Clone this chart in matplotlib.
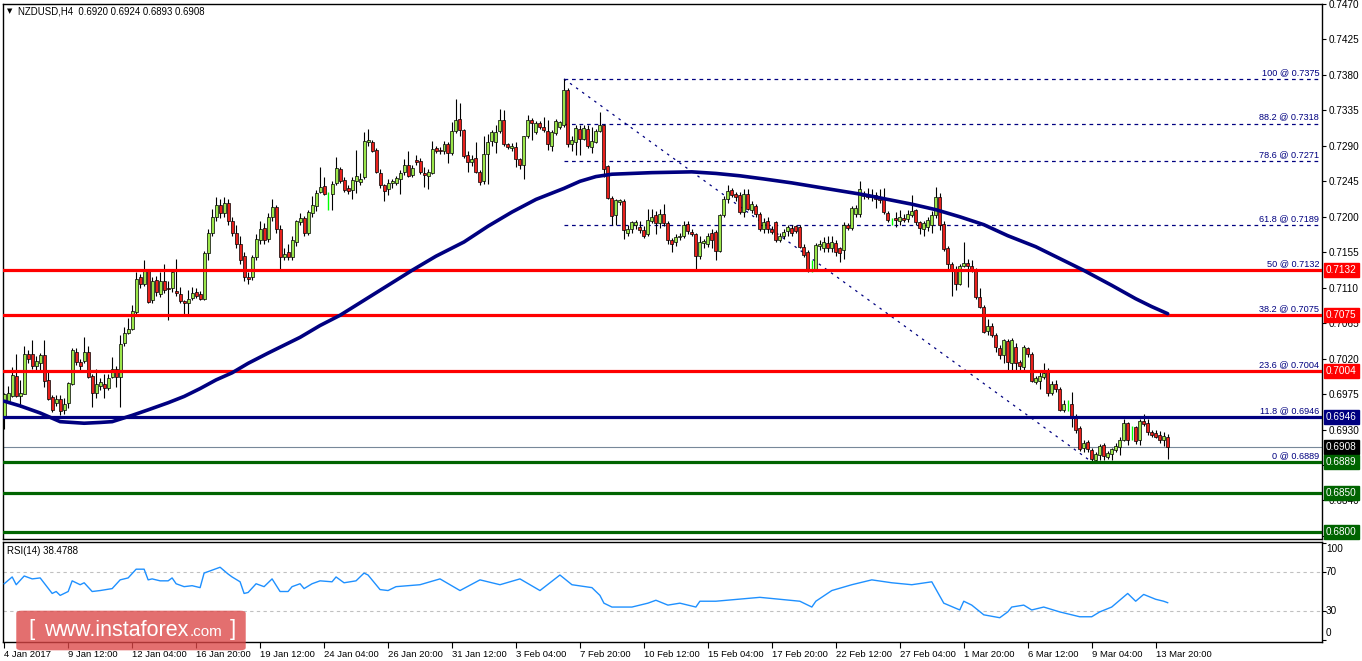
import matplotlib
matplotlib.use("Agg")
import matplotlib.pyplot as plt
from matplotlib.patches import FancyBboxPatch
from matplotlib.transforms import blended_transform_factory
import numpy as np

# ---------------- data ----------------
opens = [
0.6947,0.6966,0.6972,0.6998,0.6973,0.6975,0.7026,0.7026,0.7010,0.7014,
0.7024,0.6993,0.6971,0.6964,0.6969,0.6955,0.6964,0.6988,0.7029,0.7016,
0.7017,0.7029,0.6998,0.6976,0.6985,0.6988,0.6983,0.6997,0.7007,0.6997,
0.7040,0.7053,0.7057,0.7079,0.7123,0.7115,0.7133,0.7094,0.7120,0.7102,
0.7119,0.7110,0.7109,0.7106,0.7102,0.7093,0.7091,0.7097,0.7104,0.7102,
0.7096,0.7154,0.7180,0.7200,0.7215,0.7205,0.7218,0.7195,0.7180,0.7165,
0.7150,0.7124,0.7124,0.7149,0.7170,0.7186,0.7172,0.7200,0.7212,0.7185,
0.7149,0.7155,0.7149,0.7168,0.7193,0.7199,0.7180,0.7205,0.7214,0.7231,
0.7239,0.7230,0.7229,0.7243,0.7261,0.7247,0.7236,0.7234,0.7246,0.7244,
0.7250,0.7295,0.7295,0.7285,0.7256,0.7240,0.7235,0.7243,0.7243,0.7248,
0.7257,0.7266,0.7253,0.7272,0.7271,0.7256,0.7252,0.7256,0.7287,0.7285,
0.7283,0.7292,0.7281,0.7309,0.7324,0.7310,0.7279,0.7270,0.7275,0.7257,
0.7246,0.7280,0.7296,0.7295,0.7309,0.7323,0.7292,0.7287,0.7289,0.7273,
0.7266,0.7302,0.7323,0.7307,0.7319,0.7314,0.7309,0.7290,0.7306,0.7314,
0.7316,0.7361,0.7292,0.7295,0.7312,0.7299,0.7312,0.7289,0.7295,0.7309,
0.7316,0.7264,0.7224,0.7202,0.7219,0.7220,0.7180,0.7184,0.7190,0.7187,
0.7183,0.7178,0.7195,0.7202,0.7192,0.7204,0.7192,0.7171,0.7168,0.7174,
0.7176,0.7191,0.7181,0.7178,0.7150,0.7167,0.7166,0.7180,0.7181,0.7157,
0.7202,0.7222,0.7234,0.7229,0.7227,0.7206,0.7229,0.7209,0.7214,0.7204,
0.7185,0.7195,0.7185,0.7193,0.7170,0.7175,0.7182,0.7186,0.7188,0.7187,
0.7162,0.7155,0.7133,0.7134,0.7163,0.7160,0.7167,0.7160,0.7167,0.7160,
0.7158,0.7190,0.7186,0.7203,0.7204,0.7226,0.7229,0.7225,0.7227,0.7225,
0.7223,0.7205,0.7196,0.7199,0.7194,0.7199,0.7197,0.7202,0.7208,0.7193,
0.7185,0.7187,0.7189,0.7202,0.7225,0.7191,0.7161,0.7140,0.7132,0.7115,
0.7138,0.7141,0.7137,0.7132,0.7098,0.7086,0.7055,0.7061,0.7050,0.7034,
0.7024,0.7042,0.7015,0.7035,0.7016,0.7009,0.7033,0.7026,0.6990,0.6992,
0.6997,0.7006,0.6977,0.6988,0.6982,0.6955,0.6963,0.6963,0.6945,0.6932,
0.6906,0.6914,0.6904,0.6891,0.6898,0.6910,0.6895,0.6899,0.6904,0.6908,
0.6917,0.6938,0.6927,0.6933,0.6917,0.6941,0.6938,0.6927,0.6925,0.6923,
0.6917,0.6920]

highs = [
0.6977,0.6985,0.7009,0.7026,0.6993,0.7036,0.7031,0.7043,0.7023,0.7027,
0.7043,0.7003,0.6974,0.6974,0.6974,0.6970,0.6990,0.7033,0.7033,0.7020,
0.7047,0.7036,0.7001,0.7007,0.6996,0.7001,0.7000,0.7022,0.7010,0.7050,
0.7060,0.7072,0.7088,0.7130,0.7127,0.7145,0.7134,0.7124,0.7125,0.7130,
0.7140,0.7118,0.7133,0.7147,0.7111,0.7095,0.7107,0.7111,0.7110,0.7106,
0.7156,0.7185,0.7210,0.7225,0.7222,0.7225,0.7222,0.7200,0.7190,0.7175,
0.7155,0.7130,0.7152,0.7178,0.7195,0.7192,0.7205,0.7222,0.7215,0.7190,
0.7160,0.7165,0.7175,0.7196,0.7205,0.7201,0.7208,0.7226,0.7234,0.7263,
0.7250,0.7231,0.7246,0.7276,0.7263,0.7250,0.7240,0.7250,0.7285,0.7255,
0.7307,0.7312,0.7297,0.7287,0.7260,0.7242,0.7248,0.7248,0.7252,0.7259,
0.7273,0.7283,0.7266,0.7278,0.7275,0.7263,0.7260,0.7296,0.7290,0.7288,
0.7296,0.7295,0.7320,0.7349,0.7345,0.7312,0.7284,0.7278,0.7295,0.7259,
0.7303,0.7305,0.7310,0.7316,0.7337,0.7335,0.7294,0.7293,0.7295,0.7275,
0.7303,0.7329,0.7325,0.7322,0.7322,0.7326,0.7323,0.7310,0.7324,0.7322,
0.7375,0.7363,0.7303,0.7316,0.7316,0.7316,0.7316,0.7314,0.7311,0.7333,
0.7318,0.7266,0.7226,0.7223,0.7223,0.7222,0.7190,0.7195,0.7196,0.7195,
0.7188,0.7210,0.7210,0.7207,0.7210,0.7216,0.7195,0.7173,0.7178,0.7180,
0.7195,0.7195,0.7185,0.7180,0.7175,0.7172,0.7180,0.7185,0.7183,0.7204,
0.7226,0.7240,0.7236,0.7232,0.7232,0.7235,0.7235,0.7220,0.7216,0.7206,
0.7198,0.7200,0.7188,0.7195,0.7180,0.7185,0.7190,0.7189,0.7190,0.7190,
0.7165,0.7158,0.7145,0.7167,0.7170,0.7174,0.7175,0.7175,0.7170,0.7162,
0.7193,0.7192,0.7214,0.7215,0.7246,0.7233,0.7236,0.7235,0.7232,0.7235,
0.7236,0.7207,0.7199,0.7206,0.7209,0.7203,0.7208,0.7227,0.7210,0.7195,
0.7195,0.7200,0.7207,0.7238,0.7230,0.7195,0.7163,0.7143,0.7138,0.7140,
0.7168,0.7147,0.7145,0.7135,0.7110,0.7088,0.7070,0.7065,0.7052,0.7037,
0.7045,0.7045,0.7046,0.7040,0.7018,0.7037,0.7035,0.7028,0.6998,0.7006,
0.7015,0.7008,0.6992,0.6993,0.6984,0.6968,0.6967,0.6978,0.6950,0.6935,
0.6917,0.6917,0.6906,0.6902,0.6912,0.6913,0.6903,0.6907,0.6913,0.6920,
0.6943,0.6940,0.6935,0.6935,0.6943,0.6950,0.6944,0.6930,0.6929,0.6928,
0.6927,0.6924]

lows = [
0.6931,0.6964,0.6971,0.6971,0.6959,0.6975,0.7015,0.7007,0.7005,0.7003,
0.6984,0.6967,0.6952,0.6960,0.6948,0.6950,0.6957,0.6987,0.7012,0.7005,
0.7014,0.6995,0.6958,0.6970,0.6980,0.6970,0.6980,0.6995,0.6984,0.6959,
0.7036,0.7051,0.7056,0.7077,0.7110,0.7112,0.7090,0.7090,0.7100,0.7098,
0.7103,0.7069,0.7105,0.7100,0.7090,0.7077,0.7077,0.7095,0.7097,0.7094,
0.7094,0.7145,0.7175,0.7195,0.7198,0.7200,0.7190,0.7175,0.7160,0.7140,
0.7118,0.7115,0.7120,0.7145,0.7165,0.7165,0.7168,0.7195,0.7180,0.7134,
0.7145,0.7145,0.7145,0.7163,0.7190,0.7175,0.7177,0.7200,0.7207,0.7230,
0.7227,0.7209,0.7209,0.7240,0.7243,0.7232,0.7229,0.7222,0.7230,0.7240,
0.7248,0.7290,0.7282,0.7255,0.7236,0.7220,0.7228,0.7236,0.7240,0.7229,
0.7253,0.7250,0.7250,0.7266,0.7254,0.7238,0.7235,0.7254,0.7281,0.7280,
0.7280,0.7268,0.7279,0.7306,0.7302,0.7275,0.7257,0.7265,0.7255,0.7240,
0.7242,0.7242,0.7290,0.7281,0.7306,0.7290,0.7286,0.7284,0.7263,0.7261,
0.7248,0.7300,0.7297,0.7305,0.7311,0.7308,0.7285,0.7283,0.7304,0.7312,
0.7314,0.7289,0.7284,0.7278,0.7278,0.7297,0.7287,0.7281,0.7293,0.7307,
0.7250,0.7222,0.7190,0.7190,0.7215,0.7172,0.7175,0.7180,0.7185,0.7180,
0.7173,0.7175,0.7192,0.7178,0.7186,0.7188,0.7165,0.7155,0.7163,0.7170,
0.7173,0.7178,0.7175,0.7132,0.7147,0.7160,0.7162,0.7160,0.7145,0.7155,
0.7200,0.7218,0.7225,0.7220,0.7203,0.7200,0.7208,0.7205,0.7200,0.7182,
0.7180,0.7180,0.7178,0.7168,0.7168,0.7172,0.7176,0.7176,0.7180,0.7160,
0.7149,0.7130,0.7130,0.7132,0.7158,0.7155,0.7155,0.7155,0.7150,0.7143,
0.7147,0.7183,0.7183,0.7200,0.7200,0.7222,0.7222,0.7220,0.7211,0.7218,
0.7203,0.7193,0.7190,0.7187,0.7190,0.7193,0.7193,0.7200,0.7190,0.7178,
0.7176,0.7182,0.7180,0.7198,0.7183,0.7156,0.7134,0.7099,0.7107,0.7113,
0.7136,0.7111,0.7130,0.7096,0.7084,0.7052,0.7050,0.7047,0.7029,0.7020,
0.7014,0.7006,0.7005,0.7005,0.7004,0.7005,0.7022,0.6990,0.6988,0.6982,
0.6994,0.6972,0.6974,0.6978,0.6953,0.6952,0.6954,0.6933,0.6925,0.6903,
0.6902,0.6902,0.6889,0.6889,0.6891,0.6891,0.6892,0.6891,0.6902,0.6898,
0.6915,0.6910,0.6917,0.6912,0.6911,0.6935,0.6923,0.6920,0.6919,0.6913,
0.6909,0.6893]

closes = [
0.6975,0.6976,0.6999,0.6972,0.6977,0.7026,0.7020,0.7011,0.7017,0.7025,
0.6992,0.6969,0.6955,0.6969,0.6954,0.6963,0.6989,0.7031,0.7016,0.7010,
0.7028,0.6997,0.6977,0.6988,0.6990,0.6983,0.6995,0.7007,0.6997,0.7039,
0.7053,0.7058,0.7080,0.7121,0.7115,0.7133,0.7092,0.7118,0.7105,0.7118,
0.7107,0.7108,0.7130,0.7103,0.7093,0.7090,0.7096,0.7103,0.7100,0.7096,
0.7154,0.7180,0.7200,0.7215,0.7205,0.7218,0.7195,0.7180,0.7165,0.7145,
0.7124,0.7121,0.7149,0.7172,0.7185,0.7170,0.7200,0.7212,0.7185,0.7149,
0.7153,0.7149,0.7170,0.7195,0.7199,0.7179,0.7206,0.7215,0.7230,0.7238,
0.7229,0.7230,0.7242,0.7262,0.7246,0.7234,0.7233,0.7247,0.7252,0.7248,
0.7296,0.7297,0.7284,0.7257,0.7240,0.7233,0.7243,0.7246,0.7249,0.7256,
0.7266,0.7252,0.7262,0.7270,0.7257,0.7253,0.7257,0.7286,0.7284,0.7283,
0.7292,0.7281,0.7309,0.7323,0.7310,0.7277,0.7270,0.7273,0.7257,0.7244,
0.7280,0.7295,0.7307,0.7308,0.7323,0.7292,0.7289,0.7290,0.7273,0.7266,
0.7302,0.7323,0.7319,0.7319,0.7314,0.7310,0.7292,0.7307,0.7322,0.7320,
0.7361,0.7292,0.7297,0.7313,0.7299,0.7313,0.7290,0.7296,0.7309,0.7317,
0.7261,0.7224,0.7201,0.7221,0.7221,0.7183,0.7184,0.7193,0.7193,0.7183,
0.7176,0.7196,0.7200,0.7192,0.7203,0.7192,0.7170,0.7166,0.7174,0.7176,
0.7189,0.7182,0.7178,0.7150,0.7168,0.7169,0.7176,0.7170,0.7157,0.7202,
0.7223,0.7233,0.7228,0.7225,0.7206,0.7229,0.7210,0.7216,0.7204,0.7184,
0.7193,0.7185,0.7181,0.7170,0.7176,0.7181,0.7187,0.7179,0.7182,0.7162,
0.7152,0.7132,0.7133,0.7164,0.7166,0.7168,0.7160,0.7168,0.7155,0.7154,
0.7190,0.7186,0.7211,0.7211,0.7235,0.7228,0.7225,0.7228,0.7223,0.7221,
0.7206,0.7196,0.7196,0.7196,0.7200,0.7196,0.7204,0.7207,0.7193,0.7186,
0.7192,0.7196,0.7202,0.7225,0.7189,0.7159,0.7140,0.7132,0.7115,0.7137,
0.7141,0.7137,0.7132,0.7098,0.7086,0.7054,0.7062,0.7050,0.7035,0.7024,
0.7043,0.7016,0.7044,0.7014,0.7010,0.7035,0.7026,0.6992,0.6995,0.6998,
0.7002,0.6976,0.6988,0.6981,0.6955,0.6963,0.6963,0.6945,0.6930,0.6905,
0.6913,0.6905,0.6892,0.6899,0.6909,0.6896,0.6900,0.6905,0.6909,0.6917,
0.6938,0.6917,0.6927,0.6916,0.6941,0.6937,0.6927,0.6923,0.6921,0.6917,
0.6922,0.6908]

# moving average (at these bar indices)
ma_bars = [0, 4, 9, 14, 20, 24, 27, 32, 36, 41, 45, 49, 53, 57, 61, 66, 70, 74, 79, 84,
           90, 96, 102, 108, 115, 121, 127, 133, 140, 144, 148, 152, 157, 162, 172,
           178, 184, 190, 197, 203, 209, 215, 221, 227, 233, 239, 245, 251, 258, 264,
           270, 277, 283, 287, 291]
ma_vals = [0.6966, 0.6960, 0.6951, 0.6940, 0.6938, 0.6939, 0.6940, 0.6948, 0.6955,
           0.6964, 0.6972, 0.6982, 0.6993, 0.7002, 0.7014, 0.7027, 0.7037, 0.7047,
           0.7062, 0.7075, 0.7094, 0.7113, 0.7132, 0.7150, 0.7168, 0.7188, 0.7206,
           0.7222, 0.7236, 0.7245, 0.7251, 0.7254, 0.7255, 0.7256, 0.7257, 0.7255,
           0.7252, 0.7248, 0.7243, 0.7238, 0.7233, 0.7228, 0.7222, 0.7216, 0.7209,
           0.7200, 0.7190, 0.7176, 0.7162, 0.7147, 0.7132, 0.7113, 0.7096, 0.7086,
           0.7077]

# RSI(14)
rsi_bars = [0, 2, 3, 5, 7, 9, 12, 13, 14, 16, 17, 19, 20, 22, 24, 27, 29, 31, 33, 35,
            36, 37, 39, 41, 42, 43, 45, 47, 49, 50, 52, 54, 56, 57, 59, 60, 61, 63, 65,
            67, 69, 71, 72, 74, 75, 77, 79, 82, 83, 85, 88, 90, 91, 94, 96, 98, 104,
            109, 114, 119, 124, 129, 134, 139, 142, 147, 149, 150, 152, 157, 161, 163,
            166, 169, 173, 174, 178, 189, 199, 202, 203, 207, 212, 217, 222, 227, 232,
            235, 239, 240, 242, 245, 249, 251, 252, 255, 257, 260, 264, 269, 272, 274,
            277, 279, 281, 283, 285, 288, 290, 291]
rsi_vals = [58, 65, 57, 66, 63, 64, 48, 50, 46, 50, 61, 57, 59, 50, 51, 53, 62, 64, 73,
            73, 62, 63, 61, 61, 64, 58, 55, 56, 54, 69, 72, 75, 68, 65, 60, 48, 49, 58,
            55, 63, 50, 50, 55, 58, 53, 58, 61, 60, 65, 59, 61, 69, 67, 52, 51, 55, 57,
            63, 51, 62, 57, 63, 51, 67, 57, 54, 46, 38, 34, 34, 38, 41, 36, 38, 34, 40,
            40, 44, 40, 34, 40, 51, 57, 62, 59, 57, 60, 38, 31, 40, 36, 26, 23, 29, 34,
            36, 31, 34, 29, 24, 24, 29, 34, 41, 48, 40, 47, 42, 40, 38.4788]

h_red = [0.7132, 0.7075, 0.7004]
h_blue = [0.6946]
h_green = [0.6889, 0.6850, 0.6800]
last_price = 0.6908

fib_names = ["100", "88.2", "78.6", "61.8", "50", "38.2", "23.6", "11.8", "0"]
fib_levels = [0.7375, 0.7318, 0.7271, 0.7189, 0.7132, 0.7075, 0.7004, 0.6946, 0.6889]
fib_start_bar, fib_end_bar = 140, 272

price_ticks = [0.7470, 0.7425, 0.7380, 0.7335, 0.7290, 0.7245, 0.7200, 0.7155,
               0.7110, 0.7065, 0.7020, 0.6975, 0.6930, 0.6885, 0.6840, 0.6795]
time_labels = ["4 Jan 2017", "9 Jan 12:00", "12 Jan 04:00", "16 Jan 20:00",
               "19 Jan 12:00", "24 Jan 04:00", "26 Jan 20:00", "31 Jan 12:00",
               "3 Feb 04:00", "7 Feb 20:00", "10 Feb 12:00", "15 Feb 04:00",
               "17 Feb 20:00", "22 Feb 12:00", "27 Feb 04:00", "1 Mar 20:00",
               "6 Mar 12:00", "9 Mar 04:00", "13 Mar 20:00"]
time_step = 16

# ---------------- figure ----------------
W, H = 1362, 661
plt.rcParams['font.family'] = ['Liberation Sans', 'DejaVu Sans']
fig = plt.figure(figsize=(W / 100, H / 100), dpi=100)
fig.patch.set_facecolor("white")

def fx(px):
    return px / W

def fy(py):
    return 1 - py / H

ax = fig.add_axes([fx(3), fy(539), fx(1322) - fx(3), fy(4) - fy(539)])
ax2 = fig.add_axes([fx(3), fy(642), fx(1322) - fx(3), fy(542) - fy(642)])

XMAX = 329.6
for a in (ax, ax2):
    a.set_xlim(-0.3, XMAX)
    for s in a.spines.values():
        s.set_color("black")
        s.set_linewidth(1.0)

ax.set_ylim(0.67911, 0.74691)

n = min(len(opens), len(highs), len(lows), len(closes))
o = np.array(opens[:n]); h = np.array(highs[:n]); l = np.array(lows[:n]); c = np.array(closes[:n])
h = np.maximum(h, np.maximum(o, c)); l = np.minimum(l, np.minimum(o, c))
x = np.arange(n)

doji = np.isclose(o, c)
bull = (c > o) & ~doji
bear = (c < o) & ~doji

ax.vlines(x[~doji], l[~doji], h[~doji], colors="black", linewidth=0.8, zorder=3)
ax.vlines(x[doji], l[doji], h[doji], colors="#00ff00", linewidth=1.0, zorder=3)
ax.bar(x[bull], (c - o)[bull], bottom=o[bull], width=0.75, color="#9be64a",
       edgecolor="black", linewidth=0.5, zorder=4)
ax.bar(x[bear], (o - c)[bear], bottom=c[bear], width=0.75, color="#e8201c",
       edgecolor="black", linewidth=0.5, zorder=4)

# fibonacci
for lev in fib_levels:
    ax.plot([fib_start_bar, XMAX], [lev, lev], color="#000080", lw=0.9,
            linestyle=(0, (3, 3)), zorder=2)
ax.plot([fib_start_bar, fib_end_bar], [fib_levels[0], fib_levels[-1]], color="#000080",
        lw=0.9, linestyle=(0, (2, 4)), zorder=2)

# horizontal levels
ax.axhline(last_price, color="#778899", lw=0.8, zorder=2)
for lev in h_red:
    ax.axhline(lev, color="#ff0000", lw=2.3, zorder=5)
for lev in h_blue:
    ax.axhline(lev, color="#000080", lw=2.3, zorder=5)
for lev in h_green:
    ax.axhline(lev, color="#006400", lw=2.3, zorder=5)

# moving average
ax.plot(ma_bars, ma_vals, color="#000080", lw=2.6, zorder=6, solid_capstyle="round",
        solid_joinstyle="round")

# fib labels
for name, lev in zip(fib_names, fib_levels):
    ax.annotate(f"{name} @ {lev:.4f}", xy=(1.0, lev), xycoords=("axes fraction", "data"),
                xytext=(-2, 1.5), textcoords="offset points", ha="right", va="bottom",
                fontsize=6.6, color="#000080", zorder=7)

# price axis
ax.yaxis.tick_right()
ax.set_yticks(price_ticks)
ax.set_yticklabels([f"{t:.4f}" for t in price_ticks])
ax.tick_params(axis="y", direction="out", length=3, width=0.8, pad=2, labelsize=7.2,
               colors="black")
ax.set_xticks([])

# right-side price boxes
trans = blended_transform_factory(fig.transFigure, ax.transData)
boxes = [(v, "#ff0000") for v in h_red] + [(v, "#000080") for v in h_blue] + \
        [(last_price, "#000000")] + [(v, "#006400") for v in h_green]
for v, col in boxes:
    fig.text(fx(1326), v, f"{v:.4f}", transform=trans, ha="left", va="center",
             fontsize=7.2, color="white", zorder=10,
             bbox=dict(boxstyle="square,pad=0.2", facecolor=col, edgecolor=col))

# title
fig.text(fx(7), fy(11), "\u25BC", fontsize=5, va="center", ha="left", color="black",
         family="DejaVu Sans")
fig.text(fx(18), fy(11), "NZDUSD,H4  0.6920 0.6924 0.6893 0.6908", fontsize=6.9,
         va="center", ha="left", color="black")

# ---------------- RSI ----------------
ax2.set_ylim(-2, 101)
ax2.plot(rsi_bars, rsi_vals, color="#1e90ff", lw=1.0, zorder=3)
for lev in (70, 30):
    ax2.axhline(lev, color="#c0c0c0", lw=0.8, linestyle=(0, (3, 3)), zorder=1)
ax2.yaxis.tick_right()
ax2.set_yticks([100, 70, 30, 0])
ax2.set_yticklabels([])
ax2.tick_params(axis="y", direction="out", length=3, width=0.8)
for val, ypx in [("100", 549), ("70", 572), ("30", 611), ("0", 633)]:
    fig.text(fx(1326), fy(ypx), val, fontsize=7.2, va="center", ha="left")
fig.text(fx(7), fy(551), "RSI(14) 38.4788", fontsize=7, va="center", ha="left")

ticks = [i * time_step for i in range(len(time_labels))]
ax2.set_xticks(ticks)
ax2.set_xticklabels(time_labels, fontsize=6.8)
ax2.tick_params(axis="x", direction="out", length=4, width=0.8, pad=1.5)
for lbl in ax2.get_xticklabels():
    lbl.set_horizontalalignment("left")

# ---------------- watermark ----------------
wm = FancyBboxPatch((fx(19), fy(649)), fx(243) - fx(19), fy(612) - fy(649),
                    boxstyle="round,pad=0.002,rounding_size=0.004",
                    transform=fig.transFigure, facecolor="#dc4646", alpha=0.78,
                    edgecolor="none", zorder=20)
fig.patches.append(wm)
fig.text(fx(28), fy(630), "[", fontsize=16, color="white", va="center", ha="left",
         zorder=21)
t_main = fig.text(fx(44), fy(631), "www.instaforex", fontsize=15.5, color="white",
                  va="center", ha="left", zorder=21)
fig.canvas.draw()
bb = t_main.get_window_extent(renderer=fig.canvas.get_renderer())
fig.text(bb.x1 / W + fx(1), fy(632.5), ".com", fontsize=11, color="white",
         va="center", ha="left", zorder=21)
fig.text(fx(230), fy(630), "]", fontsize=16, color="white", va="center", ha="left",
         zorder=21)

fig.savefig("out.png", dpi=100)
